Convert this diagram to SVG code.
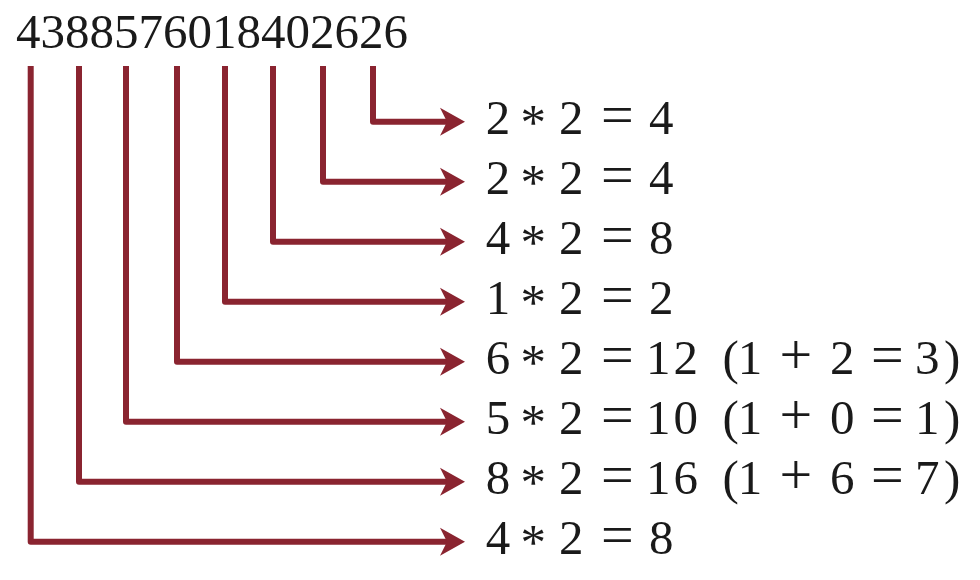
<svg xmlns="http://www.w3.org/2000/svg" width="980" height="580" viewBox="0 0 980 580">
<style>
  text { font-family: "Liberation Serif", "Times New Roman", serif; font-size: 49px; fill: #1a1a1a; }
  .op { font-size: 58px; }
  .ast { font-size: 51px; }
  .wire { fill: none; stroke: #8a2430; stroke-width: 6; stroke-linejoin: round; marker-end: url(#ah); }
</style>
<defs>
  <marker id="ah" markerUnits="userSpaceOnUse" viewBox="0 -15 26 30" markerWidth="26" markerHeight="30" refX="10" refY="0" orient="auto">
    <path d="M0,-14 L25,0 L0,14 L7,0 Z" fill="#8a2430"/>
  </marker>
</defs>
<rect width="980" height="580" fill="#ffffff"/>
<g id="number"><text x="16" y="48">4388576018402626</text></g>
<g id="connectors">
  <path class="wire" d="M373,66 V121.7 H450"/>
  <path class="wire" d="M323,66 V181.7 H450"/>
  <path class="wire" d="M273,66 V241.7 H450"/>
  <path class="wire" d="M225,66 V301.7 H450"/>
  <path class="wire" d="M177,66 V361.7 H450"/>
  <path class="wire" d="M126,66 V421.7 H450"/>
  <path class="wire" d="M79,66 V481.7 H450"/>
  <path class="wire" d="M30.7,66 V541.7 H450"/>
</g>
<g id="row1"><text y="133.5"><tspan x="485.7">2</tspan><tspan class="ast" x="520.5" dy="5.2">*</tspan><tspan x="559" dy="-5.2">2</tspan><tspan class="op" x="601">=</tspan><tspan x="649">4</tspan></text></g>
<g id="row2"><text y="193.5"><tspan x="485.7">2</tspan><tspan class="ast" x="520.5" dy="5.2">*</tspan><tspan x="559" dy="-5.2">2</tspan><tspan class="op" x="601">=</tspan><tspan x="649">4</tspan></text></g>
<g id="row3"><text y="253.5"><tspan x="485.7">4</tspan><tspan class="ast" x="520.5" dy="5.2">*</tspan><tspan x="559" dy="-5.2">2</tspan><tspan class="op" x="601">=</tspan><tspan x="649">8</tspan></text></g>
<g id="row4"><text y="313.5"><tspan x="485.7">1</tspan><tspan class="ast" x="520.5" dy="5.2">*</tspan><tspan x="559" dy="-5.2">2</tspan><tspan class="op" x="601">=</tspan><tspan x="649">2</tspan></text></g>
<g id="row5"><text y="373.5"><tspan x="485.7">6</tspan><tspan class="ast" x="520.5" dy="5.2">*</tspan><tspan x="559" dy="-5.2">2</tspan><tspan class="op" x="601">=</tspan><tspan x="646">1</tspan><tspan x="673.5">2</tspan><tspan x="722.6">(</tspan><tspan x="737.8">1</tspan><tspan class="op" x="779.6">+</tspan><tspan x="830">2</tspan><tspan class="op" x="871">=</tspan><tspan x="915">3</tspan><tspan x="944">)</tspan></text></g>
<g id="row6"><text y="433.5"><tspan x="485.7">5</tspan><tspan class="ast" x="520.5" dy="5.2">*</tspan><tspan x="559" dy="-5.2">2</tspan><tspan class="op" x="601">=</tspan><tspan x="646">1</tspan><tspan x="673.5">0</tspan><tspan x="722.6">(</tspan><tspan x="737.8">1</tspan><tspan class="op" x="779.6">+</tspan><tspan x="830">0</tspan><tspan class="op" x="871">=</tspan><tspan x="915">1</tspan><tspan x="944">)</tspan></text></g>
<g id="row7"><text y="493.5"><tspan x="485.7">8</tspan><tspan class="ast" x="520.5" dy="5.2">*</tspan><tspan x="559" dy="-5.2">2</tspan><tspan class="op" x="601">=</tspan><tspan x="646">1</tspan><tspan x="673.5">6</tspan><tspan x="722.6">(</tspan><tspan x="737.8">1</tspan><tspan class="op" x="779.6">+</tspan><tspan x="830">6</tspan><tspan class="op" x="871">=</tspan><tspan x="915">7</tspan><tspan x="944">)</tspan></text></g>
<g id="row8"><text y="553.5"><tspan x="485.7">4</tspan><tspan class="ast" x="520.5" dy="5.2">*</tspan><tspan x="559" dy="-5.2">2</tspan><tspan class="op" x="601">=</tspan><tspan x="649">8</tspan></text></g>
</svg>
